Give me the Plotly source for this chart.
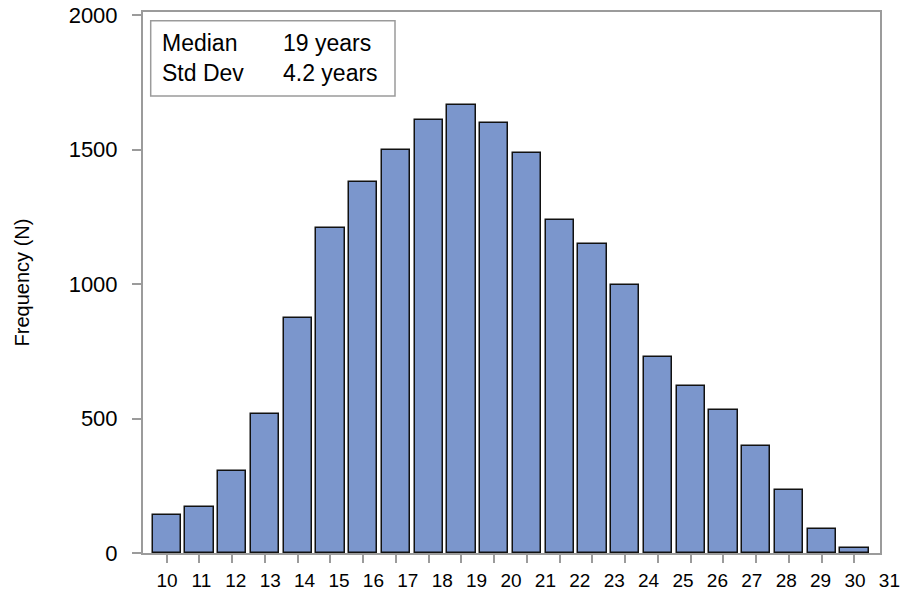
import plotly.graph_objects as go

# ---- data ----
ages = list(range(10, 32))
freq = [141, 170, 306, 518, 875, 1210, 1379, 1498, 1611, 1665, 1601,
        1488, 1238, 1148, 996, 729, 621, 532, 398, 234, 89, 19]
tick_labels = [str(v) for v in range(10, 32)]
stat_names = ["Median", "Std Dev"]
stat_values = ["19 years", "4.2 years"]

FONT = "Liberation Sans, Arial, sans-serif"
GRAY = "#9b9b9b"

fig = go.Figure()
fig.add_trace(go.Bar(
    x=ages, y=freq, width=0.86,
    marker=dict(color="#7b96cc", line=dict(color="#111111", width=1.5)),
    showlegend=False, hoverinfo="x+y",
))
# invisible trace carrying the label axis
fig.add_trace(go.Scatter(
    x=[int(t) for t in tick_labels], y=[0] * len(tick_labels),
    xaxis="x2", yaxis="y", mode="markers",
    marker=dict(opacity=0), showlegend=False, hoverinfo="skip",
))

W, H = 906, 593
L, R, T, B = 143, 0, 12, 40
plot_w = W - L - R
fig.update_layout(
    width=W, height=H,
    margin=dict(l=L, r=R, t=T, b=B),
    paper_bgcolor="white", plot_bgcolor="rgba(0,0,0,0)",
    font=dict(family=FONT, color="black"),
    bargap=0,
    xaxis=dict(
        domain=[0, (880 - L) / plot_w],
        range=[9.276, 31.78],
        tickvals=ages, showticklabels=False,
        ticks="outside", ticklen=8, tickwidth=1.5, tickcolor=GRAY,
        showline=True, linecolor=GRAY, linewidth=2, mirror=True,
        showgrid=False, zeroline=False,
    ),
    xaxis2=dict(
        domain=[0, 1], anchor="y",
        range=[9.302, 31.483],
        tickvals=[int(t) for t in tick_labels], ticktext=tick_labels,
        ticks="outside", ticklen=10, tickcolor="rgba(0,0,0,0)",
        tickfont=dict(size=19, family=FONT, color="black"),
        showline=False, showgrid=False, zeroline=False,
    ),
    yaxis=dict(
        range=[0, 2012.6],
        tickvals=[0, 500, 1000, 1500, 2000],
        ticks="outside", ticklen=9, tickwidth=1.5, tickcolor=GRAY,
        ticklabelstandoff=10,
        tickfont=dict(size=22, family=FONT, color="black"),
        showline=True, linecolor=GRAY, linewidth=2, mirror=True,
        showgrid=False, zeroline=False,
        title=dict(text="Frequency (N)", font=dict(size=20, family=FONT), standoff=34),
    ),
)

# statistics box
def px_x(p):
    return (p - L) / plot_w

def px_y(p):
    return (H - B - p) / (H - B - T)

fig.add_shape(type="rect", xref="paper", yref="paper",
              x0=px_x(150.7), x1=px_x(395), y0=px_y(96), y1=px_y(20.7),
              line=dict(color=GRAY, width=1.5), fillcolor="white", layer="above")
rows_y = [42.7, 72.7]
for name, val, yy in zip(stat_names, stat_values, rows_y):
    fig.add_annotation(text=name, xref="paper", yref="paper", x=px_x(160), y=px_y(yy),
                       xanchor="left", yanchor="middle", showarrow=False,
                       font=dict(size=23, family=FONT, color="black"))
    fig.add_annotation(text=val, xref="paper", yref="paper", x=px_x(281), y=px_y(yy),
                       xanchor="left", yanchor="middle", showarrow=False,
                       font=dict(size=23, family=FONT, color="black"))

fig.write_html("out.html", config={"displayModeBar": False},
               post_script="document.body.style.margin='0px';document.body.style.overflow='hidden';")
